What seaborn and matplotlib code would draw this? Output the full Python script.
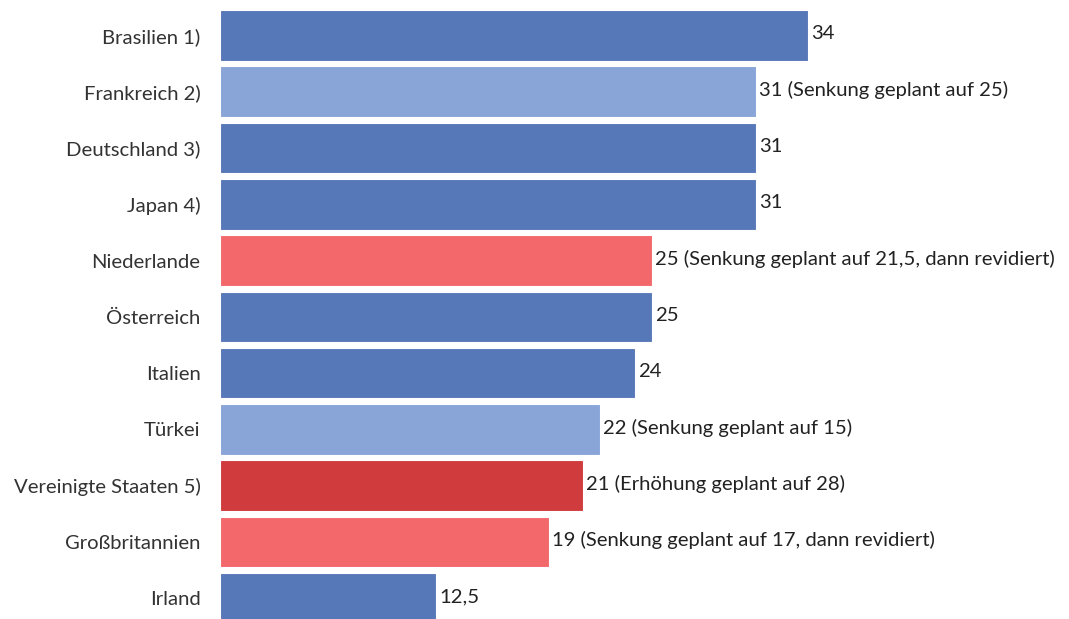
import matplotlib
matplotlib.use("Agg")
import matplotlib.pyplot as plt
import seaborn as sns
import pandas as pd

################# Data #################

countries = ["Brasilien 1)", "Frankreich 2)", "Deutschland 3)", "Japan 4)", "Niederlande",
             "Österreich", "Italien", "Türkei", "Vereinigte Staaten 5)", "Großbritannien", "Irland"]
rates = [34, 31, 31, 31, 25, 25, 24, 22, 21, 19, 12.5]
notes = ["", "Senkung geplant auf 25", "", "", "Senkung geplant auf 21,5, dann revidiert",
         "", "", "Senkung geplant auf 15", "Erhöhung geplant auf 28",
         "Senkung geplant auf 17, dann revidiert", ""]
status = ["unverändert", "Senkung", "unverändert", "unverändert", "revidiert",
          "unverändert", "unverändert", "Senkung", "Erhöhung", "revidiert", "unverändert"]

status_colors = {
    "unverändert": "#5677b8",
    "Senkung": "#89a5d8",
    "revidiert": "#f2686b",
    "Erhöhung": "#d03b3d",
}

df = pd.DataFrame({"land": countries, "satz": rates, "status": status})

################# Plot #################

sns.set_style("white")
plt.rcParams["font.family"] = ["Lato", "DejaVu Sans"]

fig = plt.figure(figsize=(10.69, 6.19), dpi=100)
ax = fig.add_axes([220 / 1069, 0, 1 - 220 / 1069, 1])

sns.barplot(data=df, x="satz", y="land", hue="status", palette=status_colors,
            dodge=False, legend=False, width=0.9, edgecolor="white", linewidth=0.8,
            saturation=1, ax=ax)

# value labels with notes (German decimal comma)
labels = []
for v, n in zip(rates, notes):
    txt = f"{v:g}".replace(".", ",")
    if n:
        txt += f" ({n})"
    labels.append(txt)

bars = sorted([p for p in ax.patches if p.get_width() > 0], key=lambda p: p.get_y())
for p, lab in zip(bars, labels):
    ax.text(p.get_width() + 0.18, p.get_y() + p.get_height() / 2 - 0.03, lab,
            va="center", ha="left", fontsize=14.6, color="#222222")

ax.set_xlim(0, 849 / 17.29)
ax.set_ylim(10.37, -0.631)
ax.set_xlabel("")
ax.set_ylabel("")
ax.set_xticks([])
ax.tick_params(axis="y", length=0, pad=14, labelsize=14.6, labelcolor="#333333")
sns.despine(ax=ax, left=True, bottom=True)

plt.savefig("out.png", dpi=100)
plt.close()
